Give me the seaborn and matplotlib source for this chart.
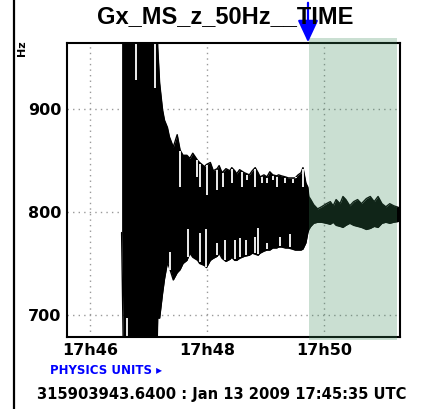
import numpy as np
import pandas as pd
import seaborn as sns
import matplotlib.pyplot as plt
from matplotlib.patches import Rectangle
from matplotlib.lines import Line2D

# seconds after 17:46:00, upper / lower envelope of the trace (Hz), 1000/650 = off scale
t_sec = [32, 34, 68, 69, 71, 74, 76, 79, 81, 85, 89, 92, 95, 99, 102, 105, 110, 112,
         117, 119, 123, 126, 130, 132, 135, 139, 143, 145, 148, 150, 153, 158, 163,
         166, 169, 172, 174, 178, 181, 184, 187, 191, 193, 196, 200, 203, 207, 210,
         213, 216, 218, 221, 223,
         224, 226, 229, 233, 237, 242, 246, 249, 252, 256, 259, 262, 266, 270, 274,
         278, 283, 287, 291, 295, 299, 303, 307, 311, 317]
upper = [1000, 1000, 1000, 960, 925, 899, 889, 882, 873, 863, 875, 860, 855, 855,
         852, 857, 850, 848, 844, 846, 848, 840, 842, 845, 838, 842, 840, 843, 840,
         837, 841, 838, 836, 840, 843, 838, 834, 836, 834, 839, 836, 835, 836, 835,
         834, 833, 833, 833, 836, 838, 843, 828, 824,
         815, 812, 807, 803, 805, 808, 810, 806, 812, 808, 815, 812, 806, 810, 812,
         808, 813, 815, 810, 815, 808, 805, 808, 806, 804]
lower = [780, 650, 650, 697, 697, 721, 735, 751, 746, 734, 741, 744, 750, 753,
         760, 756, 753, 750, 748, 746, 753, 755, 757, 760, 755, 752, 754, 756, 753,
         753, 755, 757, 758, 760, 759, 758, 760, 762, 763, 763, 765, 765, 766, 766,
         765, 765, 764, 763, 763, 763, 764, 770, 780,
         783, 786, 789, 790, 790, 789, 788, 790, 787, 786, 785, 787, 789, 787, 786,
         785, 783, 784, 786, 785, 789, 790, 789, 790, 791]

# single swings that fall short of the envelope (white gaps in the trace)
gap_up_t = [47, 66, 92, 109, 112, 120, 130, 136, 145, 155, 161, 169, 176, 181, 187,
            191, 200, 208, 211, 218]
gap_up_v = [928, 920, 824, 834, 824, 816, 821, 824, 828, 824, 831, 824, 828, 828,
            831, 824, 828, 828, 834, 824]
gap_lo_t = [38, 82, 100, 112, 119, 130, 138, 148, 153, 160, 169, 172, 181, 194, 205]
gap_lo_v = [697, 761, 783, 780, 783, 770, 773, 773, 775, 773, 776, 784, 770, 776, 779]

x_ticks = [0, 120, 240]
x_labels = ["17h46", "17h48", "17h50"]
y_ticks = [700, 800, 900]
y_labels = ["700", "800", "900"]
span = [224, 314]

df = pd.DataFrame({"t": t_sec, "upper": upper, "lower": lower})

sns.set_style("white")
plt.rcParams["font.family"] = ["DejaVu Sans"]
plt.rcParams["text.color"] = "black"
fig = plt.figure(figsize=(4.23, 4.09), dpi=100)
ax = fig.add_axes([67 / 423, 1 - 337 / 409, 333 / 423, 294 / 409])

ax.fill_between(df["t"], df["lower"], df["upper"], color="black", lw=0)
sns.lineplot(data=df, x="t", y="upper", ax=ax, color="black", lw=1)
sns.lineplot(data=df, x="t", y="lower", ax=ax, color="black", lw=1)
# gaps only inside the black band
top_at_gap = np.interp(gap_up_t, df["t"], df["upper"]) - 1
bot_at_gap = np.interp(gap_lo_t, df["t"], df["lower"]) + 1
ax.vlines(gap_up_t, gap_up_v, top_at_gap, color="white", lw=1.3)
ax.vlines(gap_lo_t, bot_at_gap, gap_lo_v, color="white", lw=1.3)

ax.set_xlim(-24, 317.5)
ax.set_ylim(678.6, 964)

# highlighted segment
ax.add_patch(Rectangle((span[0], -0.01), span[1] - span[0], 1.027,
                       transform=ax.get_xaxis_transform(), facecolor="#3d8a5c",
                       alpha=0.27, lw=0, clip_on=False, zorder=3))

ax.set_xticks(x_ticks)
ax.set_xticklabels(x_labels)
ax.set_xticks([60, 180, 300], minor=True)
ax.set_yticks(y_ticks)
ax.set_yticklabels(y_labels)
ax.set_yticks(np.arange(680, 961, 20), minor=True)
ax.tick_params(which="major", direction="in", length=6, width=1.5, pad=4,
               labelsize=11.5, colors="black")
ax.tick_params(which="minor", direction="in", length=3, width=1.2)
for lab in ax.get_xticklabels() + ax.get_yticklabels():
    lab.set_fontweight("bold")
ax.grid(True, which="major", color="#999999", linestyle=(0, (1, 3)), lw=1)
for s in ax.spines.values():
    s.set_color("black")
    s.set_linewidth(1.5)
ax.set_xlabel("")
ax.set_ylabel("")

fig.text(225 / 423, 1 - 17 / 409, "Gx_MS_z_50Hz__TIME", ha="center", va="center",
         fontsize=17, fontweight="bold", family="Liberation Sans")
fig.text(22 / 423, 1 - 48 / 409, "Hz", rotation=90, ha="center", va="center",
         fontsize=8, fontweight="bold")
fig.text(106 / 423, 1 - 370 / 409, "PHYSICS UNITS \u25b8", ha="center", va="center",
         fontsize=8.5, fontweight="bold", color="blue")
fig.text(222 / 423, 1 - 394 / 409, "315903943.6400 : Jan 13 2009 17:45:35 UTC",
         ha="center", va="center", fontsize=10.6, fontweight="bold")

fig.add_artist(Line2D([14 / 423, 14 / 423], [0, 1], color="black", lw=1.6))
ax.annotate("", xy=(308, 409 - 45), xytext=(308, 409), xycoords="figure pixels",
            arrowprops=dict(arrowstyle="-|>,head_width=0.35,head_length=0.75",
                            color="blue", lw=1.6, mutation_scale=18),
            annotation_clip=False)

fig.savefig("out.png", dpi=100)
